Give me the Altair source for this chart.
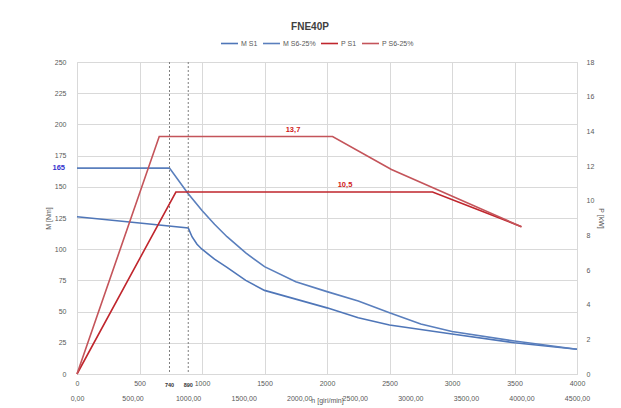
import altair as alt
import pandas as pd

title_text = "FNE40P"
series_names = ["M S1", "M S6-25%", "P S1", "P S6-25%"]
series_colors = ["#4f76b8", "#5a7fbd", "#c0262d", "#c4545a"]
series_widths = [1.6, 1.6, 2.2, 1.6]

# Torque curves (primary x axis 0..4000, left y axis M [Nm])
n_m_s1 = [0, 500, 890, 920, 960, 1000, 1100, 1200, 1350, 1500, 1750, 2000, 2250, 2500, 3000, 3500, 4000]
m_s1 = [126, 121, 117, 110, 104, 100, 92, 85.5, 75, 67, 60, 53, 45, 39.3, 32, 25, 19.8]
n_m_s6 = [0, 740, 885, 1000, 1100, 1200, 1350, 1500, 1750, 2000, 2250, 2500, 2750, 3000, 3500, 4000]
m_s6 = [165, 165, 145, 131, 120, 110, 97, 86, 74, 66, 58.5, 49, 40, 34, 26.4, 19.8]

# Power curves (secondary x axis 0..4500, right y axis P [kW])
n_p_s1 = [0, 890, 3200, 4000]
p_s1 = [0, 10.5, 10.5, 8.5]
n_p_s6 = [0, 740, 2300, 2830, 4000]
p_s6 = [0, 13.7, 13.7, 11.8, 8.5]

mark_speeds = [740, 890]
mark_labels = ["740", "890"]
m_label_value = [165]
m_label_text = ["165"]
p_label_n = [1944, 2412]
p_label_value = [13.7, 10.5]
p_label_text = ["13,7", "10,5"]

blue_df = pd.concat([
    pd.DataFrame({"n": n_m_s1, "M": m_s1, "series": "M S1", "o": range(len(n_m_s1))}),
    pd.DataFrame({"n": n_m_s6, "M": m_s6, "series": "M S6-25%", "o": range(len(n_m_s6))}),
])
red_df = pd.concat([
    pd.DataFrame({"n": n_p_s1, "P": p_s1, "series": "P S1", "o": range(len(n_p_s1))}),
    pd.DataFrame({"n": n_p_s6, "P": p_s6, "series": "P S6-25%", "o": range(len(n_p_s6))}),
])
rules_df = pd.DataFrame({"n": mark_speeds, "lbl": mark_labels})
mlab_df = pd.DataFrame({"M": m_label_value, "lbl": m_label_text})
plab_df = pd.DataFrame({"n": p_label_n, "P": p_label_value, "lbl": p_label_text})

FONT = "Liberation Sans"
LBL = "#595959"
GRID = "#d9d9d9"

color_enc = alt.Color(
    "series:N",
    scale=alt.Scale(domain=series_names, range=series_colors),
    legend=alt.Legend(
        orient="none", legendX=143, legendY=-28, direction="horizontal", columns=4,
        gridAlign="none", title=None, symbolType="stroke", symbolSize=290,
        symbolStrokeWidth=2, labelFontSize=7, labelColor=LBL, labelFont=FONT,
        columnPadding=1, labelOffset=2,
    ),
)
width_enc = alt.StrokeWidth(
    "series:N", scale=alt.Scale(domain=series_names, range=series_widths), legend=None
)

x1 = alt.X(
    "n:Q",
    scale=alt.Scale(domain=[0, 4000], nice=False, zero=False),
    axis=alt.Axis(
        values=list(range(0, 4001, 500)), format="d", grid=True, gridColor=GRID,
        domain=True, domainColor=GRID, ticks=False, labelFontSize=7, labelColor=LBL,
        labelFont=FONT, labelPadding=5, labelFlush=False, labelOverlap=False, title=None,
    ),
)
y1 = alt.Y(
    "M:Q",
    scale=alt.Scale(domain=[0, 250], nice=False),
    axis=alt.Axis(
        values=list(range(0, 251, 25)), grid=True, gridColor=GRID, domain=False,
        ticks=False, labelFontSize=7, labelColor=LBL, labelFont=FONT, labelPadding=11,
        labelFlush=False, labelOverlap=False, title="M [Nm]", titleFontSize=7,
        titleColor=LBL, titleFont=FONT, titleFontWeight="normal", titlePadding=3,
    ),
)

blue_lines = alt.Chart(blue_df).mark_line().encode(
    x=x1, y=y1, color=color_enc, strokeWidth=width_enc, order="o:Q"
)
rules = alt.Chart(rules_df).mark_rule(
    strokeDash=[2, 2], color="#7f7f7f", strokeWidth=1
).encode(x=x1, y=alt.value(0), y2=alt.value(312))
rule_text = alt.Chart(rules_df).mark_text(
    fontSize=5.5, fontWeight="bold", color="#333333", font=FONT, baseline="middle"
).encode(x=x1, y=alt.value(323), text="lbl:N")
m_text = alt.Chart(mlab_df).mark_text(
    fontSize=7.5, fontWeight="bold", color="#3333cc", font=FONT, align="right",
    baseline="middle",
).encode(x=alt.value(-12), y=y1, text="lbl:N")

blue_group = alt.layer(blue_lines, rules, rule_text, m_text)

x2 = alt.X(
    "n:Q",
    scale=alt.Scale(domain=[0, 4500], nice=False, zero=False),
    axis=alt.Axis(
        orient="bottom", offset=15, values=list(range(0, 4501, 500)), grid=False,
        domain=False, ticks=False, labelFontSize=7, labelColor=LBL, labelFont=FONT,
        labelPadding=5, labelFlush=False, labelOverlap=False,
        labelExpr="replace(format(datum.value, '.2f'), '.', ',')",
        title="n [giri/min]", titleFontSize=7, titleColor=LBL, titleFont=FONT,
        titleFontWeight="normal", titlePadding=-5,
    ),
)
y2 = alt.Y(
    "P:Q",
    scale=alt.Scale(domain=[0, 18], nice=False),
    axis=alt.Axis(
        orient="right", values=list(range(0, 19, 2)), grid=False, domain=False,
        ticks=False, labelFontSize=7, labelColor=LBL, labelFont=FONT, labelPadding=9,
        labelFlush=False, labelOverlap=False, title="P [kW]", titleFontSize=7,
        titleColor=LBL, titleFont=FONT, titleFontWeight="normal", titlePadding=4,
    ),
)

red_lines = alt.Chart(red_df).mark_line().encode(
    x=x2, y=y2, color=color_enc, strokeWidth=width_enc, order="o:Q"
)
p_text = alt.Chart(plab_df).mark_text(
    fontSize=7.5, fontWeight="bold", color="#d02020", font=FONT, dy=-7
).encode(x=x2, y=y2, text="lbl:N")

red_group = alt.layer(red_lines, p_text)

chart = alt.layer(blue_group, red_group).resolve_scale(
    x="independent", y="independent"
).properties(
    width=500,
    height=312,
    title=alt.TitleParams(
        title_text, fontSize=10, fontWeight="bold", color="#404040", font=FONT,
        anchor="middle", frame="group", dx=-17, offset=2,
    ),
    autosize=alt.AutoSizeParams(type="none"),
    padding={"left": 69, "top": 54, "right": 36, "bottom": 34},
).configure_view(stroke=None).configure(background="white")

chart.save("out.html", embed_options={"renderer": "svg", "actions": False})
